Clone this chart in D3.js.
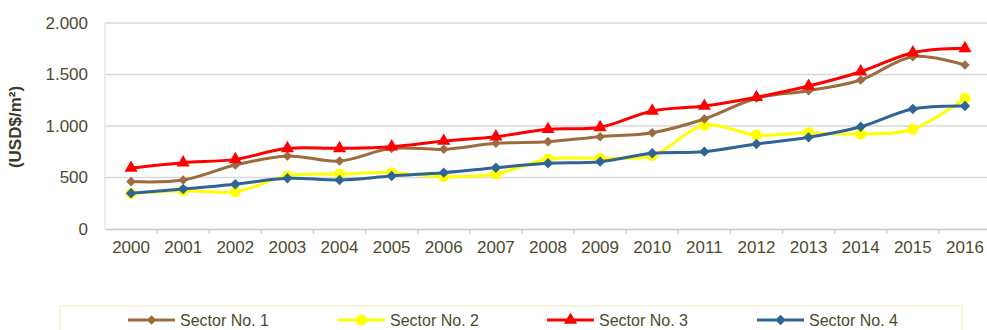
<!DOCTYPE html>
<html><head><meta charset="utf-8">
<script src="https://cdn.jsdelivr.net/npm/d3@7"></script>
<style>body{margin:0;background:#fff;}svg{display:block;font-family:"Liberation Sans",Arial,sans-serif;}</style>
</head><body>
<script>
const years = ["2000","2001","2002","2003","2004","2005","2006","2007","2008","2009","2010","2011","2012","2013","2014","2015","2016"];
const sector1 = [460,476,621,709,660,783,774,832,848,896,935,1068,1269,1343,1447,1673,1592];
const sector2 = [345,372,362,515,534,547,508,534,680,686,712,1005,913,935,922,968,1269];
const sector3 = [592,644,676,783,783,799,854,896,968,987,1146,1194,1279,1388,1527,1712,1754];
const sector4 = [347,388,434,492,476,515,547,595,638,654,735,751,825,890,993,1165,1194];
const seriesNames = ["Sector No. 1","Sector No. 2","Sector No. 3","Sector No. 4"];
const yTicks = [0,500,1000,1500,2000];
const yTickLabels = ["0","500","1.000","1.500","2.000"];

const W=987,H=330;
const colors=["#9c6b3e","#ffff00","#ff0000","#2f6497"];
const markers=["diamondS","circle","triangle","diamond"];
const data=[sector1,sector2,sector3,sector4];
const txt="#4d4b2f";

const svg=d3.select("body").append("svg").attr("width",W).attr("height",H);
const x=d3.scaleBand().domain(years).range([105,991]);
const y=d3.scaleLinear().domain([0,2000]).range([229,23]);

// gridlines
svg.append("g").selectAll("line").data(yTicks.filter(d=>d>0)).join("line")
  .attr("x1",105).attr("x2",W).attr("y1",d=>y(d)).attr("y2",d=>y(d))
  .attr("stroke","#d9d9d9").attr("stroke-width",1.5);
// left axis line
svg.append("line").attr("x1",105).attr("x2",105).attr("y1",y(2000)).attr("y2",y(0)).attr("stroke","#dcdcdc").attr("stroke-width",1);

// y axis labels
const yAxis=d3.axisLeft(y).tickValues(yTicks).tickSize(0).tickPadding(17)
  .tickFormat((d,i)=>yTickLabels[i]);
const ya=svg.append("g").attr("transform","translate(105,0)").call(yAxis);
ya.select(".domain").remove();
ya.selectAll("text").attr("fill",txt).style("font-size","17px").attr("font-family","Liberation Sans, Arial, sans-serif");

// x axis
const xAxis=d3.axisBottom(x).tickSize(0).tickPadding(12);
const xa=svg.append("g").attr("transform","translate(0,229)").call(xAxis);
xa.select(".domain").attr("stroke","#c8c8c8").attr("stroke-width",1.5);
xa.selectAll("text").attr("fill",txt).style("font-size","17px").attr("font-family","Liberation Sans, Arial, sans-serif");
// tick marks at band boundaries
svg.append("g").selectAll("line").data(years.slice(1)).join("line")
  .attr("x1",d=>x(d)).attr("x2",d=>x(d)).attr("y1",229).attr("y2",234)
  .attr("stroke","#c8c8c8").attr("stroke-width",1.2);

// y title
svg.append("text").attr("transform","translate(21,127) rotate(-90)")
  .attr("text-anchor","middle").attr("fill","#3b3b2a").attr("font-weight","bold")
  .style("font-size","17px").text("(USD$/m²)");

const cx=d=>x(d)+x.bandwidth()/2;
const line=d3.line().x((d,i)=>cx(years[i])).y(d=>y(d)).curve(d3.curveCatmullRom.alpha(0.5));

function drawMarker(g,type,color,px,py){
  if(type==="circle") g.append("circle").attr("cx",px).attr("cy",py).attr("r",5.5).attr("fill",color);
  else if(type==="triangle") g.append("path").attr("d",d3.symbol(d3.symbolTriangle,75)()).attr("transform",`translate(${px},${py})`).attr("fill",color);
  else {
    const s=type==="diamondS"?4.8:5.2;
    g.append("path").attr("d",`M0,${-s}L${s},0L0,${s}L${-s},0Z`).attr("transform",`translate(${px},${py})`).attr("fill",color);
  }
}

const order=[1,0,3,2];
order.forEach(k=>{
  const g=svg.append("g");
  g.append("path").datum(data[k]).attr("d",line).attr("fill","none").attr("stroke",colors[k]).attr("stroke-width",3);
  data[k].forEach((v,i)=>drawMarker(g,markers[k],colors[k],cx(years[i]),y(v)));
});

// legend
svg.append("rect").attr("x",60).attr("y",306).attr("width",902).attr("height",40)
  .attr("fill","#fff").attr("stroke","#f3efc6").attr("stroke-width",1.2);
const legX=[128,338,547,757];
seriesNames.forEach((n,k)=>{
  const g=svg.append("g");
  const x0=legX[k];
  g.append("line").attr("x1",x0).attr("x2",x0+47).attr("y1",320).attr("y2",320).attr("stroke",colors[k]).attr("stroke-width",3);
  drawMarker(g,markers[k],colors[k],x0+23.5,320);
  g.append("text").attr("x",x0+52).attr("y",320).attr("dy","0.35em").attr("fill",txt)
   .style("font-size","16px").text(n);
});
</script>
</body></html>
